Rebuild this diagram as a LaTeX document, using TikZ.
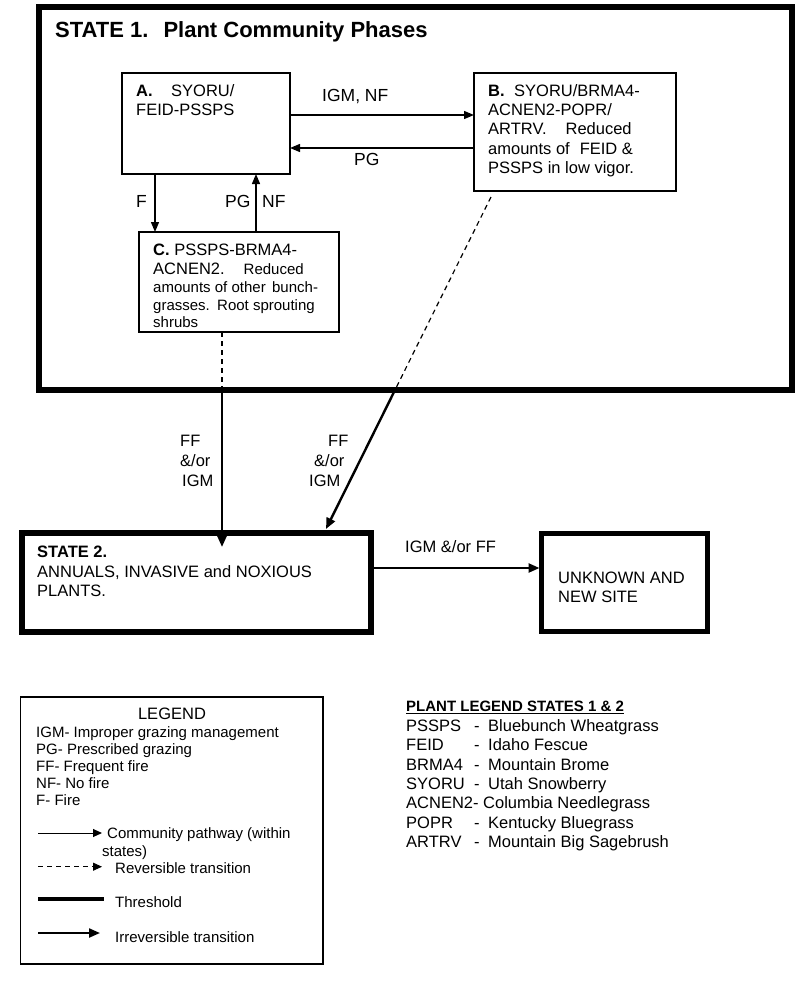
\documentclass[tikz,border=0pt]{standalone}
\usepackage{fontspec}
\setmainfont{Liberation Sans}
\usetikzlibrary{arrows.meta}
\begin{document}
\begin{tikzpicture}[x=1pt,y=-1pt,
  thinbox/.style={draw, rectangle, line width=1.3pt, inner sep=0pt, outer sep=0pt},
  thickbox/.style={draw, rectangle, line width=5.5pt, inner sep=0pt, outer sep=0pt},
  ttl/.style={anchor=base west, inner sep=0pt, font=\fontsize{22pt}{26pt}\selectfont\bfseries},
  txt/.style={anchor=base west, inner sep=0pt, font=\fontsize{16.5pt}{19pt}\selectfont},
  stxt/.style={anchor=base west, inner sep=0pt, font=\fontsize{15pt}{18pt}\selectfont},
  lbl/.style={anchor=base west, inner sep=0pt, font=\fontsize{17.5pt}{21pt}\selectfont},
  leg/.style={anchor=base west, inner sep=0pt, font=\fontsize{15pt}{18pt}\selectfont},
  pathway/.style={line width=1.3pt, -{Triangle[length=10pt,width=8pt]}},
  revers/.style={line width=1.2pt, dash pattern=on 5pt off 4pt},
  irrev/.style={line width=2.4pt, -{Triangle[length=11pt,width=9pt]}}]
\useasboundingbox (0,0) rectangle (800,983);
\fill[white] (0,0) rectangle (800,983);

% ---------- boxes ----------
\node[thickbox, line width=6pt, minimum width=753pt, minimum height=383pt] (S1) at (415.5,198.5) {};
\node[thinbox, minimum width=168pt, minimum height=101pt] (A) at (206,123.5) {};
\node[thinbox, minimum width=202pt, minimum height=118pt] (B) at (575,132) {};
\node[thinbox, minimum width=200pt, minimum height=100pt] (C) at (239,282) {};
\node[thickbox, minimum width=349pt, minimum height=99pt] (S2) at (196.5,582.5) {};
\node[thickbox, line width=5pt, minimum width=166pt, minimum height=98pt] (U) at (624.5,582.5) {};
\node[thinbox, line width=1.2pt, minimum width=302.5pt, minimum height=267pt] (L) at (171.75,830.5) {};

% ---------- State 1 title ----------
\node[ttl] (t1) at (55,37.7) {STATE 1.\hspace{15pt}Plant Community Phases};

% ---------- box A text ----------
\node[txt] (a1) at (136,96.7) {\textbf{A.}\hspace{18.5pt}SYORU/};
\node[txt] (a2) at (136,115) {FEID-PSSPS};

% ---------- box B text ----------
\node[txt] (b1) at (488,96.7) {\textbf{B.}\hspace{9.5pt}SYORU/BRMA4-};
\node[txt] (b2) at (488,115.8) {ACNEN2-POPR/};
\node[txt] (b3) at (488,134.7) {ARTRV.\hspace{19pt}Reduced};
\node[txt] (b4) at (488,154.5) {amounts of\hspace{10pt}FEID \&};
\node[txt] (b5) at (488,173) {PSSPS in low vigor.};

% ---------- box C text ----------
\node[txt] (c1) at (153,255) {\textbf{C.} PSSPS-BRMA4-};
\node[txt] (c2) at (153,274) {ACNEN2.\hspace{19pt}{\fontsize{15pt}{18pt}\selectfont Reduced}};
\node[stxt] (c3) at (153,292) {amounts of other\hspace{6.4pt}bunch-};
\node[stxt] (c4) at (153,310) {grasses.\hspace{7.3pt}Root sprouting};
\node[stxt] (c5) at (153,327) {shrubs};

% ---------- community pathways ----------
\coordinate (yAB) at (0,115);
\coordinate (yBA) at (0,148);
\coordinate (xF) at (155,0);
\coordinate (xPN) at (256,0);
\draw[pathway] (A.east |- yAB) -- (B.west |- yAB);
\draw[pathway] (B.west |- yBA) -- (A.east |- yBA);
\draw[pathway] (A.south -| xF) -- (C.north -| xF);
\draw[pathway] (C.north -| xPN) -- (A.south -| xPN);
\node[lbl] (lAB) at (322,101.7) {IGM, NF};
\node[lbl] (lBA) at (354,165.5) {PG};
\node[lbl] (lF) at (136,207.5) {F};
\node[lbl] (lPG) at (225,207.5) {PG};
\node[lbl] (lNF) at (262,207.5) {NF};

% ---------- transitions ----------
\coordinate (xC) at (222,0);
\coordinate (tipC) at (222,547);
\draw[revers] (C.south -| xC) -- (S1.south -| xC);
\draw[irrev] (S1.south -| xC) -- (tipC);

\coordinate (dB) at (491,197);
\coordinate (dX) at (395,390);
\coordinate (tipB) at (326,529);
\draw[revers] (dB) -- (dX);
\draw[irrev] (dX) -- (tipB);

\node[txt] (f1) at (180,446.7) {FF};
\node[txt] (f2) at (180,466.7) {\&/or};
\node[txt] (f3) at (182,486) {IGM};
\node[txt] (g1) at (328,446.7) {FF};
\node[txt] (g2) at (314,466.7) {\&/or};
\node[txt] (g3) at (309,486) {IGM};

\coordinate (yS) at (0,568);
\draw[irrev, shorten >=2pt] (S2.east |- yS) -- (U.west |- yS);
\node[txt] (h1) at (405,552) {IGM \&/or FF};

% ---------- State 2 and unknown text ----------
\node[txt] (s1) at (37,557.3) {\textbf{STATE 2.}};
\node[txt] (s2) at (37,577) {ANNUALS, INVASIVE and NOXIOUS};
\node[txt] (s3) at (37,596) {PLANTS.};
\node[txt] (u1) at (558,583.3) {UNKNOWN AND};
\node[txt] (u2) at (558,602.7) {NEW SITE};

% ---------- legend ----------
\node[txt, anchor=base] (lg) at (172,719) {LEGEND};
\node[leg] (lg1) at (36,737) {IGM- Improper grazing management};
\node[leg] (lg2) at (36,754) {PG- Prescribed grazing};
\node[leg] (lg3) at (36,771) {FF- Frequent fire};
\node[leg] (lg4) at (36,788) {NF- No fire};
\node[leg] (lg5) at (36,805) {F- Fire};

\coordinate (la1) at (38,833);   \coordinate (lb1) at (102,833);
\coordinate (la2) at (38,866.7); \coordinate (lb2) at (102,866.7);
\coordinate (la3) at (38,899);   \coordinate (lb3) at (104,899);
\coordinate (la4) at (38,933);   \coordinate (lb4) at (100,933);
\draw[line width=1pt, -{Triangle[length=9pt,width=8pt]}] (la1) -- (lb1);
\draw[revers, line width=1pt, -{Triangle[length=9pt,width=8pt]}] (la2) -- (lb2);
\draw[line width=3.3pt] (la3) -- (lb3);
\draw[irrev, line width=2.2pt] (la4) -- (lb4);
\node[leg] (lt1) at (107,838) {Community pathway (within};
\node[leg] (lt1b) at (102,856) {states)};
\node[leg] (lt2) at (115,873) {Reversible transition};
\node[leg] (lt3) at (115,907) {Threshold};
\node[leg] (lt4) at (115,942) {Irreversible transition};

% ---------- plant legend ----------
\node[anchor=base west, inner sep=0pt, font=\fontsize{15pt}{18pt}\selectfont\bfseries] (PL) at (406,711.5) {PLANT LEGEND STATES 1 \& 2};
\draw[line width=1.3pt] ([yshift=-2pt]PL.base west) -- ([yshift=-2pt]PL.base east);

\node[txt] (p1) at (406,731) {PSSPS};  \node[txt] (p1d) at (474,731) {-}; \node[txt] (p1n) at (488,731) {Bluebunch Wheatgrass};
\node[txt] (p2) at (406,750) {FEID};   \node[txt] (p2d) at (474,750) {-}; \node[txt] (p2n) at (488,750) {Idaho Fescue};
\node[txt] (p3) at (406,770) {BRMA4};  \node[txt] (p3d) at (474,770) {-}; \node[txt] (p3n) at (488,770) {Mountain Brome};
\node[txt] (p4) at (406,789) {SYORU};  \node[txt] (p4d) at (474,789) {-}; \node[txt] (p4n) at (488,789) {Utah Snowberry};
\node[txt] (p5) at (406,808) {ACNEN2- Columbia Needlegrass};
\node[txt] (p6) at (406,828) {POPR};   \node[txt] (p6d) at (474,828) {-}; \node[txt] (p6n) at (488,828) {Kentucky Bluegrass};
\node[txt] (p7) at (406,847) {ARTRV};  \node[txt] (p7d) at (474,847) {-}; \node[txt] (p7n) at (488,847) {Mountain Big Sagebrush};
\end{tikzpicture}
\end{document}
